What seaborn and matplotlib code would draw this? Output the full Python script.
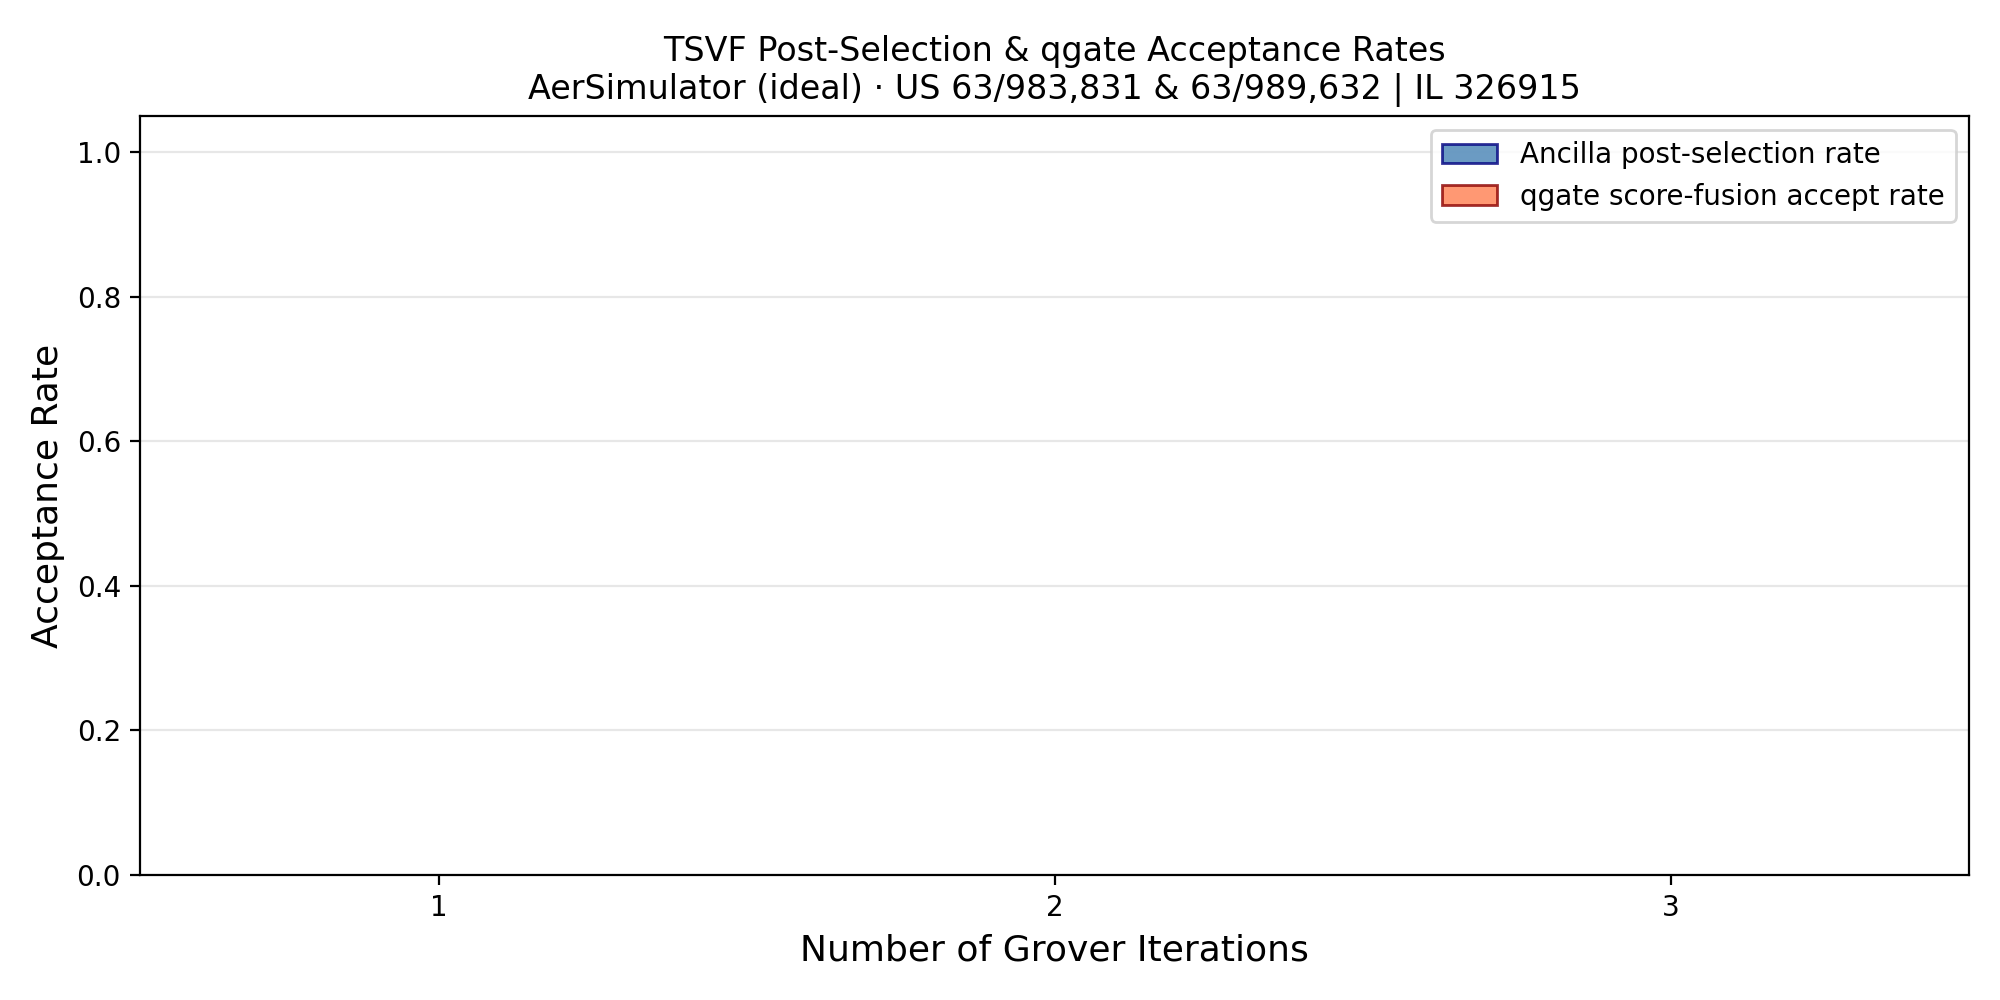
import matplotlib
matplotlib.use("Agg")
import matplotlib.pyplot as plt
import seaborn as sns
import pandas as pd

iterations = ["1", "2", "3"]
ancilla_rate = [0.0, 0.0, 0.0]
qgate_rate = [0.0, 0.0, 0.0]
series_names = ["Ancilla post-selection rate", "qgate score-fusion accept rate"]

df = pd.DataFrame({
    "iter": iterations * 2,
    "rate": ancilla_rate + qgate_rate,
    "series": [series_names[0]] * 3 + [series_names[1]] * 3,
})

plt.rcParams['font.family'] = ['DejaVu Sans']

fig, ax = plt.subplots(figsize=(10, 5), dpi=200)
palette = {series_names[0]: "#4682B4", series_names[1]: "#FF7F50"}
sns.barplot(data=df, x="iter", y="rate", hue="series", palette=palette,
            order=iterations, hue_order=series_names, width=0.7, alpha=0.8,
            saturation=1, linewidth=1.0, ax=ax, errorbar=None)
edges = ["navy", "darkred"]
for cont, ec in zip(ax.containers, edges):
    for p in cont.patches:
        p.set_edgecolor(ec)

ax.set_ylim(0, 1.05)
ax.set_xlim(-0.485, 2.485)
ax.set_xlabel("Number of Grover Iterations", fontsize=13)
ax.set_ylabel("Acceptance Rate", fontsize=13)
ax.set_title("TSVF Post-Selection & qgate Acceptance Rates\n"
             "AerSimulator (ideal) \u00b7 US 63/983,831 & 63/989,632 | IL 326915",
             fontsize=12)
ax.yaxis.grid(True, alpha=0.3)
ax.xaxis.grid(False)
ax.set_axisbelow(True)
ax.tick_params(axis='both', labelsize=10)

leg = ax.legend(loc="upper right", fontsize=10)
for h, ec in zip(leg.legend_handles, edges):
    h.set_edgecolor(ec)
    h.set_alpha(0.8)

fig.subplots_adjust(left=0.0702, right=0.9847, bottom=0.125, top=0.884)
fig.savefig("out.png", dpi=200)
